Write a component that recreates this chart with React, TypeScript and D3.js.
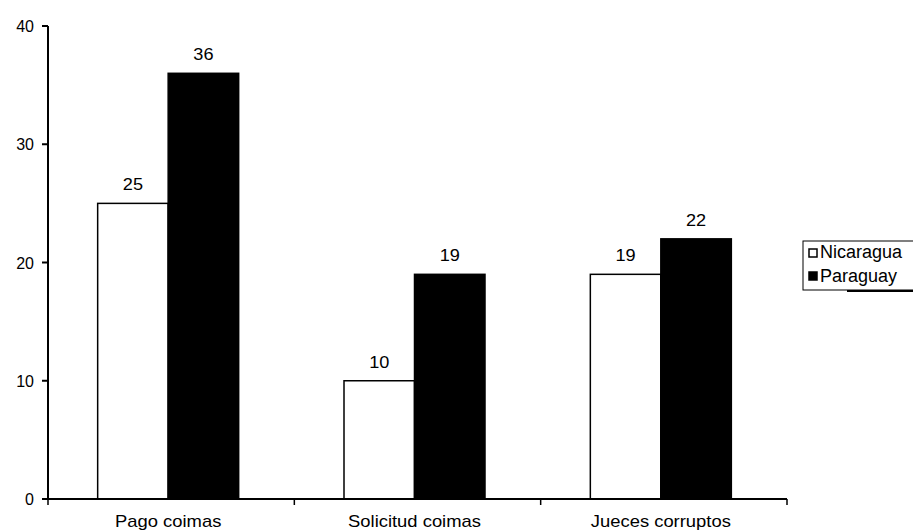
import React from "react";
import * as d3 from "d3";

const categories = ["Pago coimas", "Solicitud coimas", "Jueces corruptos"];
const seriesNames = ["Nicaragua", "Paraguay"];
const nicaragua = [25, 10, 19];
const paraguay = [36, 19, 22];
const yTicks = [0, 10, 20, 30, 40];

const W = 913, H = 531;
const left = 48, right = 787, top = 26, bottom = 499;

function SText({ x, y, sx, size, anchor, children }: any) {
  return (
    <g transform={`translate(${x},${y}) scale(${sx},1)`}>
      <text x={0} y={0} textAnchor={anchor} fontSize={size} fill="#000">{children}</text>
    </g>
  );
}

export default function App() {
  const x0 = d3.scaleBand<string>().domain(categories).range([left, right]).paddingInner(0).paddingOuter(0);
  const y = d3.scaleLinear().domain([0, 40]).range([bottom, top]);
  const groupW = 141;
  const x1 = d3.scaleBand<string>().domain(seriesNames).range([0, groupW]).padding(0);
  const values = [nicaragua, paraguay];
  const fills = ["#ffffff", "#000000"];
  const font = "Arial, 'Liberation Sans', sans-serif";
  return (
    <svg width={W} height={H} style={{ position: "absolute", left: 0, top: 0, background: "#fff" }} fontFamily={font}>
      {categories.map((c, i) => {
        const gx = (x0(c) as number) + x0.bandwidth() / 2 - groupW / 2 - 3;
        return seriesNames.map((s, j) => {
          const v = values[j][i];
          const bx = gx + (x1(s) as number);
          return (
            <g key={c + s}>
              <rect x={bx} y={y(v)} width={x1.bandwidth()} height={bottom - y(v)} fill={fills[j]} stroke="#000" strokeWidth={1.5} />
              <SText x={bx + x1.bandwidth() / 2} y={y(v) - 13} sx={1.1} size={16.5} anchor="middle">{v}</SText>
            </g>
          );
        });
      })}
      <line x1={left} x2={left} y1={top} y2={bottom} stroke="#000" strokeWidth={2} />
      {yTicks.map(t => (
        <g key={t}>
          <line x1={left - 6} x2={left} y1={y(t)} y2={y(t)} stroke="#000" strokeWidth={2} />
          <text x={left - 14} y={y(t) + 6} textAnchor="end" fontSize={16} fill="#000">{t}</text>
        </g>
      ))}
      <line x1={left} x2={right} y1={bottom} y2={bottom} stroke="#000" strokeWidth={2} />
      {categories.map((c, i) => (
        <g key={c}>
          <line x1={(x0(c) as number) + x0.bandwidth()} x2={(x0(c) as number) + x0.bandwidth()} y1={bottom} y2={bottom + 6} stroke="#000" strokeWidth={1.5} />
          <SText x={(x0(c) as number) + x0.bandwidth() / 2 - 3} y={bottom + 28} sx={1.15} size={16} anchor="middle">{c}</SText>
        </g>
      ))}
      <line x1={left} x2={left} y1={bottom} y2={bottom + 6} stroke="#000" strokeWidth={1.5} />
      <g>
        <rect x={803} y={241} width={120} height={49} fill="#fff" stroke="#000" strokeWidth={1} />
        <line x1={847} x2={920} y1={291} y2={291} stroke="#000" strokeWidth={2} />
        {seriesNames.map((s, j) => (
          <g key={s}>
            <rect x={809} y={249 + j * 23} width={8} height={8} fill={fills[j]} stroke="#000" strokeWidth={1.5} />
            <text x={820} y={258 + j * 24} fontSize={18} fill="#000">{s}</text>
          </g>
        ))}
      </g>
    </svg>
  );
}
